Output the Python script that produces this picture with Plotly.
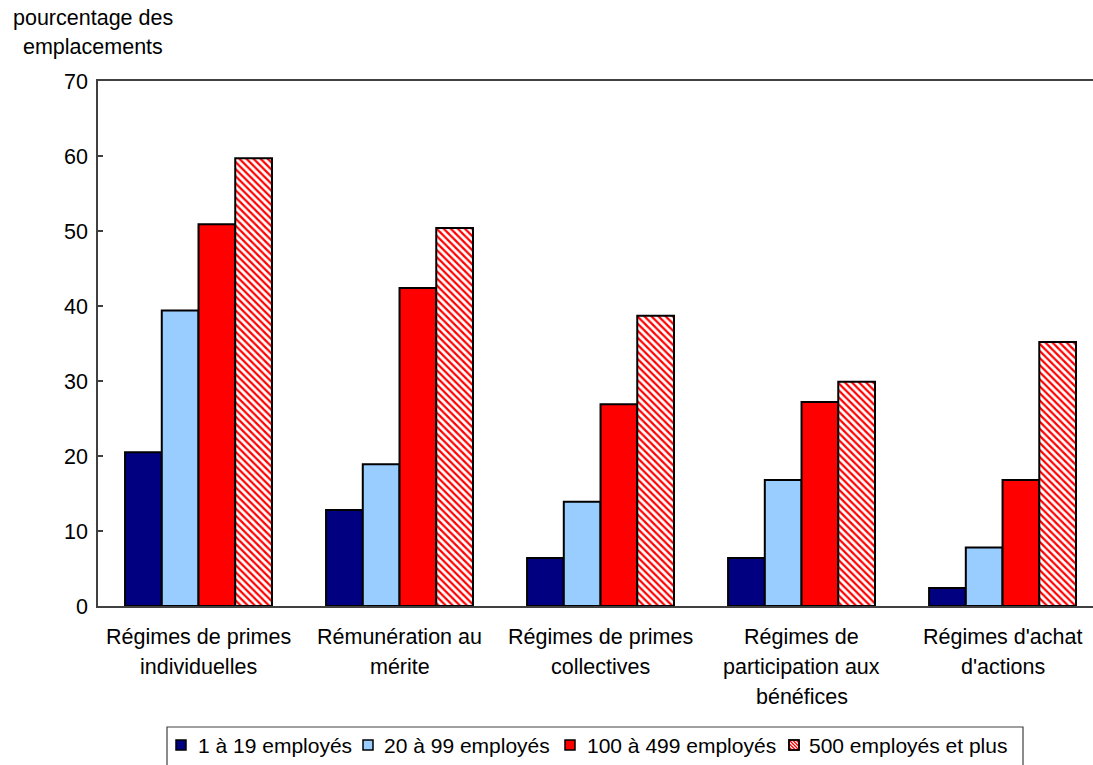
import plotly.graph_objects as go

# Catégories (retours à la ligne inclus) et séries
categories = [
    "Régimes de primes<br>individuelles",
    "Rémunération au<br>mérite",
    "Régimes de primes<br>collectives",
    "Régimes de<br>participation aux<br>bénéfices",
    "Régimes d'achat<br>d'actions",
]
series_names = [
    "1 à 19 employés",
    "20 à 99 employés",
    "100 à 499 employés",
    "500 employés et plus",
]
v_1_19 = [20.5, 12.8, 6.4, 6.4, 2.4]
v_20_99 = [39.4, 18.9, 13.9, 16.8, 7.8]
v_100_499 = [50.9, 42.4, 26.9, 27.2, 16.8]
v_500_plus = [59.7, 50.4, 38.7, 29.9, 35.2]
y_ticks = [0, 10, 20, 30, 40, 50, 60, 70]

FONT = "Liberation Sans, Arial, sans-serif"
FS = 21.5
FS_LEG = 21
W, H = 1093, 765
ML, MR, MT, MB = 98, 0, 81, 159
PW, PH = W - ML - MR, H - MT - MB


def px_x(px):
    """Pixel column -> paper x."""
    return (px - ML) / PW


def px_y(py):
    """Pixel row -> paper y."""
    return (H - MB - py) / PH


fig = go.Figure()

solid_colors = ["#000080", "#99CCFF", "#FF0000"]
for name, color, vals in zip(series_names[:3], solid_colors, [v_1_19, v_20_99, v_100_499]):
    fig.add_trace(go.Bar(
        x=categories, y=vals, name=name, showlegend=False,
        marker=dict(color=color, line=dict(color="black", width=2)),
    ))

HATCH = "#FF0000"
fig.add_trace(go.Bar(
    x=categories, y=v_500_plus, name=series_names[3], showlegend=False,
    marker=dict(
        color="white",
        line=dict(color="black", width=2),
        pattern=dict(shape="\\", fgcolor=HATCH, bgcolor="white",
                     size=5, solidity=0.45, fillmode="replace"),
    ),
))

# Libellés des catégories, une ligne par annotation
line_y = [px_y(637), px_y(667), px_y(697)]
for cat in categories:
    for i, part in enumerate(cat.split("<br>")):
        fig.add_annotation(
            x=cat, y=line_y[i], xref="x", yref="paper",
            text=part, showarrow=False, yanchor="middle", xanchor="center",
            font=dict(family=FONT, size=FS, color="black"),
        )

# Titre de l'axe vertical
for txt, row in [("pourcentage des", 18), ("emplacements", 47)]:
    fig.add_annotation(
        x=px_x(93), y=px_y(row), xref="paper", yref="paper", text=txt,
        showarrow=False, xanchor="center", yanchor="middle",
        font=dict(family=FONT, size=FS, color="black"),
    )

# Légende : cadre, pastilles et textes
shapes = [dict(
    type="rect", xref="paper", yref="paper",
    x0=px_x(167), x1=px_x(1023), y0=px_y(727), y1=px_y(775),
    line=dict(color="#404040", width=1.2), fillcolor="white", layer="above",
)]
swatch_left = [176, 363, 565, 789]
text_left = [196, 382, 585, 807]
sw, cy = 10, 745
for k, name in enumerate(series_names):
    x0 = swatch_left[k]
    fill = solid_colors[k] if k < 3 else "white"
    shapes.append(dict(
        type="rect", xref="paper", yref="paper",
        x0=px_x(x0), x1=px_x(x0 + sw), y0=px_y(cy - sw / 2), y1=px_y(cy + sw / 2),
        line=dict(color="black", width=1.5), fillcolor=fill, layer="above",
    ))
    if k == 3:
        # petites hachures obliques dans la pastille
        top = cy - sw / 2
        segs = [(0, 0, sw, sw), (0, 3.5, sw - 3.5, sw), (3.5, 0, sw, sw - 3.5),
                (0, 7, sw - 7, sw), (7, 0, sw, sw - 7)]
        for a, b, c, d in segs:
            shapes.append(dict(
                type="line", xref="paper", yref="paper",
                x0=px_x(x0 + a), y0=px_y(top + b), x1=px_x(x0 + c), y1=px_y(top + d),
                line=dict(color=HATCH, width=1.2), layer="above",
            ))
        shapes.append(dict(
            type="rect", xref="paper", yref="paper",
            x0=px_x(x0), x1=px_x(x0 + sw), y0=px_y(cy - sw / 2), y1=px_y(cy + sw / 2),
            line=dict(color="black", width=1.5), fillcolor="rgba(0,0,0,0)", layer="above",
        ))
    fig.add_annotation(
        x=px_x(text_left[k]), y=px_y(cy), xref="paper", yref="paper",
        text=name, showarrow=False, xanchor="left", yanchor="middle",
        font=dict(family=FONT, size=FS_LEG, color="black"),
    )

fig.update_layout(
    width=W, height=H,
    margin=dict(l=ML, r=MR, t=MT, b=MB),
    paper_bgcolor="white", plot_bgcolor="white",
    barmode="group", bargap=0.269, bargroupgap=0,
    font=dict(family=FONT, size=FS, color="black"),
    showlegend=False,
    shapes=shapes,
    xaxis=dict(
        type="category", range=[-0.5, 4.45],
        showticklabels=False, ticks="",
        showline=True, linecolor="#404040", linewidth=1.5, mirror=True,
        showgrid=False, zeroline=False,
    ),
    yaxis=dict(
        range=[0, 70], tickvals=y_ticks, ticks="inside", ticklen=5,
        tickcolor="#404040", tickwidth=1.5,
        showline=True, linecolor="#404040", linewidth=1.5,
        showgrid=False, zeroline=False,
        tickfont=dict(family=FONT, size=FS, color="black"),
        ticklabelstandoff=4,
    ),
)

fig.write_html("out.html")
